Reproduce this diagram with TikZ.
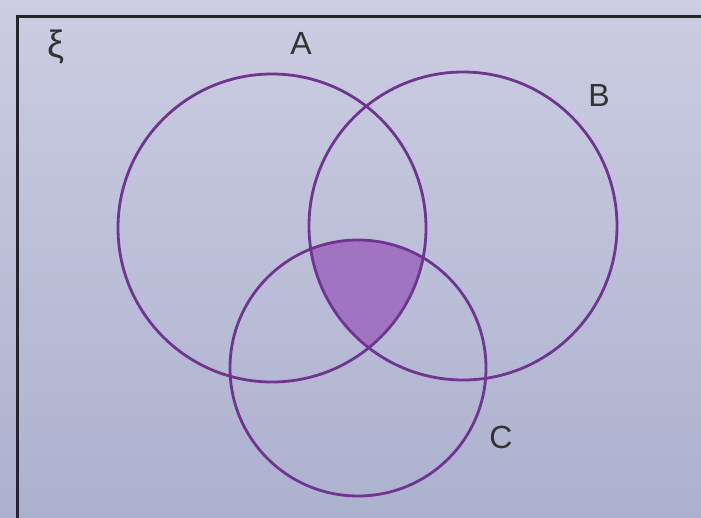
\documentclass[tikz,border=0pt]{standalone}
\usepackage{fontspec}
\setmainfont{Liberation Sans}
\begin{document}
\begin{tikzpicture}[x=1pt,y=1pt,
  venn/.style={draw=vpurple,line width=2.8pt},
  lbl/.style={text=black!80,font=\fontsize{32}{36}\selectfont,inner sep=0pt}]
\definecolor{vpurple}{RGB}{112,52,145}
\definecolor{vfill}{RGB}{160,116,192}
\definecolor{bgtop}{RGB}{204,205,226}
\definecolor{bgbot}{RGB}{172,177,206}
\useasboundingbox (0,0) rectangle (701,517);
\shade[top color=bgtop,bottom color=bgbot] (0,0) rectangle (701,517);
% frame
\draw[black!85,line width=3pt] (17,-5) -- (17,500) -- (710,500);
% shaded triple intersection
\begin{scope}
  \clip (272,289) circle (154);
  \clip (463,291) circle (154);
  \fill[vfill] (358,149) circle (128);
\end{scope}
\node[venn,circle,minimum size=308pt,inner sep=0pt] (A) at (272,289) {};
\node[venn,circle,minimum size=308pt,inner sep=0pt] (B) at (463,291) {};
\node[venn,circle,minimum size=256pt,inner sep=0pt] (C) at (358,149) {};
\node[lbl,font=\fontsize{38}{40}\selectfont] (xi) at (56,470) {ξ};
\node[lbl] (la) at (301,474) {A};
\node[lbl] (lb) at (599,422) {B};
\node[lbl] (lc) at (501,80) {C};
\end{tikzpicture}
\end{document}
